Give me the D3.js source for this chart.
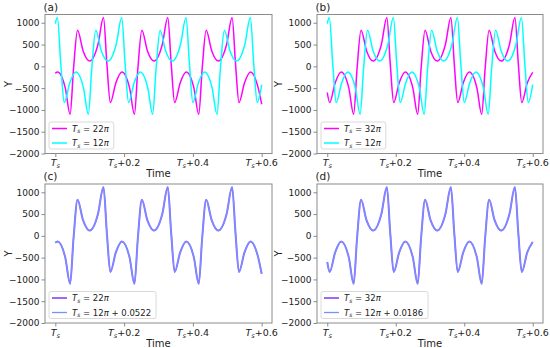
<!DOCTYPE html>
<html><head><meta charset="utf-8">
<script src="https://cdn.jsdelivr.net/npm/d3@7"></script>
<style>body{margin:0;background:#fff}svg{display:block}text{font-family:"DejaVu Sans",sans-serif;fill:#222}</style>
</head><body><svg id="chart" width="550" height="348"></svg>
<script>
// ---- data ----
const t22 = [0,0.0065,0.029,0.043,0.053,0.0646,0.0806,0.100,0.124,0.140,0.150,0.160,0.176,0.1935,0.216,0.230,0.240,0.2516,0.2676,0.287,0.311,0.327,0.337,0.347,0.363,0.3805,0.403,0.417,0.427,0.4386,0.4546,0.474,0.498,0.514,0.524,0.534,0.550,0.5675,0.590,0.600];
const y22 = [-160,-130,-500,-1100,-50,830,360,120,500,1120,50,-830,-380,-130,-500,-1100,-50,830,360,120,500,1120,50,-830,-380,-130,-500,-1100,-50,830,360,120,500,1120,50,-830,-380,-130,-500,-870];
const t12 = [0,0.006,0.016,0.026,0.042,0.0595,0.082,0.096,0.106,0.1176,0.1336,0.153,0.177,0.193,0.203,0.213,0.229,0.2465,0.269,0.283,0.293,0.3046,0.3206,0.340,0.364,0.380,0.390,0.400,0.416,0.4335,0.456,0.470,0.480,0.4916,0.5076,0.527,0.551,0.567,0.577,0.587,0.600];
const y12 = [980,1120,50,-830,-380,-130,-500,-1100,-50,830,360,120,500,1120,50,-830,-380,-130,-500,-1100,-50,830,360,120,500,1120,50,-830,-380,-130,-500,-1100,-50,830,360,120,500,1120,50,-830,-420];
const t32 = [0,0.007,0.023,0.0405,0.063,0.077,0.087,0.0986,0.1146,0.134,0.158,0.174,0.184,0.194,0.210,0.2275,0.250,0.264,0.274,0.2856,0.3016,0.321,0.345,0.361,0.371,0.381,0.397,0.4145,0.437,0.451,0.461,0.4726,0.4886,0.508,0.532,0.548,0.558,0.568,0.584,0.600];
const y32 = [-600,-830,-380,-130,-500,-1100,-50,830,360,120,500,1120,50,-830,-380,-130,-500,-1100,-50,830,360,120,500,1120,50,-830,-380,-130,-500,-1100,-50,830,360,120,500,1120,50,-830,-380,-140];
// 12π curves shifted by the quoted offsets coincide with the 22π / 32π curves
const t12c = t22, y12c = y22;   // T_s = 12π + 0.0522
const t12d = t32, y12d = y32;   // T_s = 12π + 0.0186

const xTicks = [0, 0.2, 0.4, 0.6];
const xTickSuffix = ["", "+0.2", "+0.4", "+0.6"];
const yTicks = [-2000, -1500, -1000, -500, 0, 500, 1000];
const panelLabels = ["(a)", "(b)", "(c)", "(d)"];
const legendNums = [["22", "12"], ["32", "12"], ["22", "12"], ["32", "12"]];
const legendSuffix = [["", ""], ["", ""], ["", " + 0.0522"], ["", " + 0.0186"]];

// ---- layout ----
const svg = d3.select("#chart");
const boxes = [
  {l:45, r:272, t:14.5, b:153.5, ylab:8},
  {l:317, r:543, t:14.5, b:153.5, ylab:278},
  {l:45, r:272, t:184, b:323, ylab:8},
  {l:317, r:543, t:184, b:323, ylab:278}
];
const seriesSets = [
  [{t:t22,y:y22,c:"#ff00ff",w:1.5,o:1},{t:t12,y:y12,c:"#00ffff",w:1.5,o:1}],
  [{t:t32,y:y32,c:"#ff00ff",w:1.5,o:1},{t:t12,y:y12,c:"#00ffff",w:1.5,o:1}],
  [{t:t22,y:y22,c:"#a066ff",w:2,o:1},{t:t12c,y:y12c,c:"#6f93ff",w:1.3,o:1}],
  [{t:t32,y:y32,c:"#a066ff",w:2,o:1},{t:t12d,y:y12d,c:"#6f93ff",w:1.3,o:1}]
];
const frameColor = "#8a8a8a";

function mathT(sel, size) {
  sel.append("tspan").attr("font-style","italic").text("T");
  sel.append("tspan").attr("font-style","italic").attr("font-size", size*0.7).attr("dy", size*0.22).text("s");
}

boxes.forEach((B, i) => {
  const x = d3.scaleLinear().domain([-0.03, 0.63]).range([B.l, B.r]);
  const y = d3.scaleLinear().domain([-2000, 1190]).range([B.b, B.t]);
  const g = svg.append("g");
  const cid = "clip" + i;
  svg.append("clipPath").attr("id", cid).append("rect")
    .attr("x", B.l).attr("y", B.t).attr("width", B.r - B.l).attr("height", B.b - B.t);

  seriesSets[i].forEach(s => {
    const line = d3.line().x(k => x(s.t[k])).y(k => y(s.y[k])).curve(d3.curveMonotoneX);
    g.append("path").attr("clip-path", `url(#${cid})`)
      .attr("d", line(d3.range(s.t.length)))
      .attr("fill", "none").attr("stroke", s.c).attr("stroke-width", s.w).attr("stroke-opacity", s.o)
      .attr("stroke-linejoin", "round");
  });

  const yAxis = d3.axisLeft(y).tickValues(yTicks).tickSize(3.5).tickPadding(2)
    .tickFormat(d => d3.format("d")(d).replace("-", "\u2212"));
  const ya = g.append("g").attr("transform", `translate(${B.l},0)`).call(yAxis);
  ya.select(".domain").remove();
  ya.selectAll("line").attr("stroke", frameColor);
  ya.selectAll("text").attr("font-size", 9).attr("font-family", "DejaVu Sans").attr("fill", "#222");

  const xAxis = d3.axisBottom(x).tickValues(xTicks).tickSize(3.5).tickFormat("");
  const xa = g.append("g").attr("transform", `translate(0,${B.b})`).call(xAxis);
  xa.select(".domain").remove();
  xa.selectAll("line").attr("stroke", frameColor);
  xTicks.forEach((v, k) => {
    const tx = g.append("text").attr("x", x(v)).attr("y", B.b + 12.5)
      .attr("text-anchor", "middle").attr("font-size", 9.5);
    mathT(tx, 9.5);
    if (xTickSuffix[k]) tx.append("tspan").attr("dy", -9.5*0.22).text(xTickSuffix[k]);
  });

  g.append("rect").attr("x", B.l).attr("y", B.t).attr("width", B.r - B.l).attr("height", B.b - B.t)
    .attr("fill", "none").attr("stroke", frameColor).attr("stroke-width", 1);

  g.append("text").attr("x", B.l - 1.5).attr("y", B.t - 4).attr("font-size", 10.5).text(panelLabels[i]);
  g.append("text").attr("x", (B.l + B.r) / 2).attr("y", B.b + 23.5).attr("text-anchor", "middle")
    .attr("font-size", 10).text("Time");
  g.append("text").attr("transform", `translate(${B.ylab},${(B.t + B.b) / 2}) rotate(-90)`)
    .attr("text-anchor", "middle").attr("dy", "0.35em").attr("font-size", 10).text("Y");

  const lx = B.l + 4, ly = B.b - 31.5;
  const lg = g.append("g");
  const lbox = lg.append("rect").attr("x", lx).attr("y", ly).attr("height", 27)
    .attr("rx", 2).attr("fill", "#fff").attr("fill-opacity", 0.85).attr("stroke", "#d0d0d0").attr("stroke-width", 0.8);
  let maxW = 0;
  seriesSets[i].forEach((s, k) => {
    const cy = ly + 6.5 + k * 14.5;
    lg.append("line").attr("x1", lx + 3).attr("x2", lx + 18).attr("y1", cy).attr("y2", cy)
      .attr("stroke", s.c).attr("stroke-width", s.w);
    const tx = lg.append("text").attr("x", lx + 23).attr("y", cy + 3).attr("font-size", 8.5);
    mathT(tx, 8.5);
    tx.append("tspan").attr("dy", -8.5*0.22).text(" = " + legendNums[i][k]);
    tx.append("tspan").attr("font-style", "italic").text("\u03c0");
    if (legendSuffix[i][k]) tx.append("tspan").text(legendSuffix[i][k]);
    maxW = Math.max(maxW, tx.node().getComputedTextLength());
  });
  lbox.attr("width", 23 + maxW + 5);
});
</script></body></html>
